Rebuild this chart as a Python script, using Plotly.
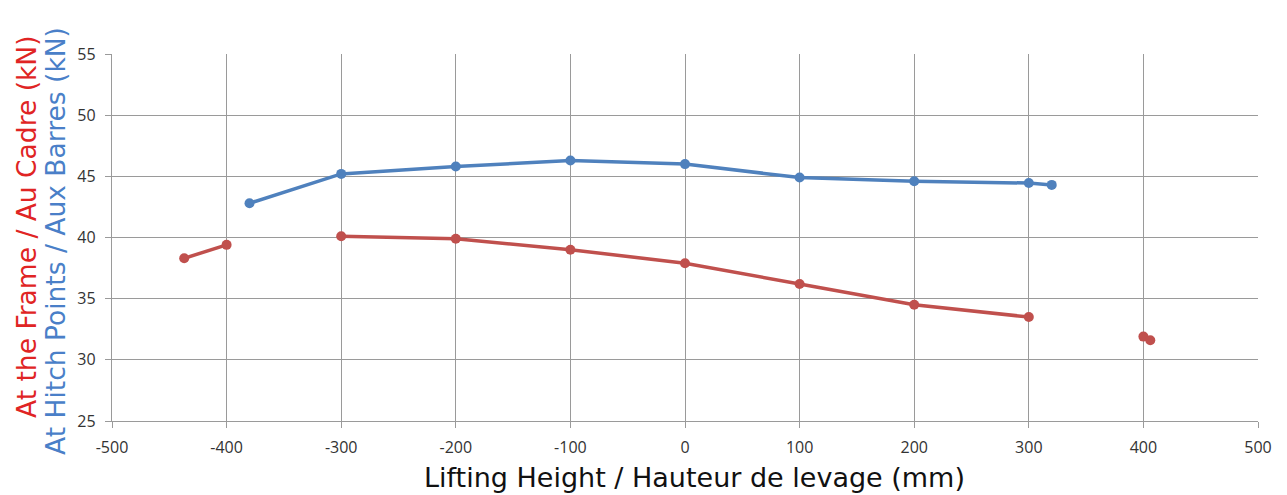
import plotly.graph_objects as go

frame_x = [-437, -400, None, -300, -200, -100, 0, 100, 200, 300, None, 400, 406]
frame_y = [38.3, 39.4, None, 40.1, 39.9, 39.0, 37.9, 36.2, 34.5, 33.5, None, 31.9, 31.6]

hitch_x = [-380, -300, -200, -100, 0, 100, 200, 300, 320]
hitch_y = [42.8, 45.2, 45.8, 46.3, 46.0, 44.9, 44.6, 44.45, 44.3]

x_ticks = [-500, -400, -300, -200, -100, 0, 100, 200, 300, 400, 500]
y_ticks = [25, 30, 35, 40, 45, 50, 55]

RED = "#C0504D"
BLUE = "#4F81BD"

fig = go.Figure()
fig.add_trace(go.Scatter(x=hitch_x, y=hitch_y, mode="lines+markers",
                         line=dict(color=BLUE, width=3.5), marker=dict(size=10, color=BLUE),
                         connectgaps=False, showlegend=False))
fig.add_trace(go.Scatter(x=frame_x, y=frame_y, mode="lines+markers",
                         line=dict(color=RED, width=3.5), marker=dict(size=10, color=RED),
                         connectgaps=False, showlegend=False))

fig.update_layout(
    width=1279, height=487,
    margin=dict(l=104, r=29, t=46, b=74),
    paper_bgcolor="white", plot_bgcolor="white",
    font=dict(family="Open Sans, DejaVu Sans, sans-serif", color="#333333"),
    xaxis=dict(range=[-500, 500], tickvals=x_ticks, ticktext=[str(v) for v in x_ticks],
               showgrid=True, gridcolor="#9a9a9a", gridwidth=1.3,
               showline=True, linecolor="#9a9a9a", linewidth=1.3,
               ticks="outside", ticklen=6, tickcolor="#9a9a9a", ticklabelstandoff=6,
               zeroline=False, tickfont=dict(size=16, color="#333333")),
    yaxis=dict(range=[25, 55], tickvals=y_ticks, ticktext=[str(v) for v in y_ticks],
               showgrid=True, gridcolor="#9a9a9a", gridwidth=1.3,
               showline=True, linecolor="#9a9a9a", linewidth=1.3,
               ticks="outside", ticklen=6, tickcolor="#9a9a9a", ticklabelstandoff=6,
               zeroline=False, tickfont=dict(size=16, color="#333333")),
)

fig.add_annotation(text="Lifting Height / Hauteur de levage (mm)", xref="paper", yref="paper",
                   x=0.5, y=0, xanchor="center", yanchor="middle", xshift=9, yshift=-56,
                   showarrow=False,
                   font=dict(family="DejaVu Sans, sans-serif", size=27, color="#111111"))
fig.add_annotation(text="At the Frame / Au Cadre (kN)", xref="paper", yref="paper",
                   x=0, y=0.5286, xanchor="center", yanchor="middle", xshift=-86,
                   textangle=-90, showarrow=False,
                   font=dict(family="DejaVu Sans, sans-serif", size=26.5, color="#E02424"))
fig.add_annotation(text="At Hitch Points / Aux Barres (kN)", xref="paper", yref="paper",
                   x=0, y=0.4905, xanchor="center", yanchor="middle", xshift=-56,
                   textangle=-90, showarrow=False,
                   font=dict(family="DejaVu Sans, sans-serif", size=26.5, color="#4A7FC8"))

fig.write_html("out.html")
